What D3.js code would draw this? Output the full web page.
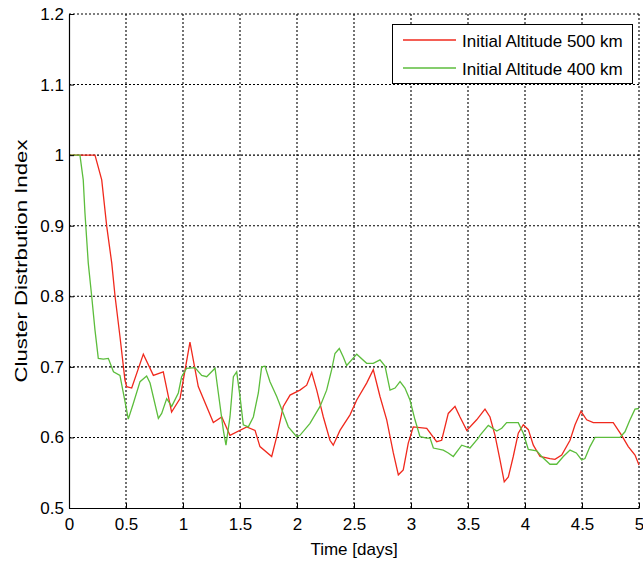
<!DOCTYPE html>
<html>
<head>
<meta charset="utf-8">
<script src="https://cdn.jsdelivr.net/npm/d3@7"></script>
<style>
  body { margin: 0; background: #fff; }
  text { font-family: "Liberation Sans", Arial, sans-serif; }
</style>
</head>
<body>
<div id="chart"></div>
<script>
// red series: initial altitude 500 km
var redT = [0, 0.228, 0.287, 0.331, 0.375, 0.404, 0.447, 0.491, 0.506, 0.55, 0.652, 0.74, 0.827, 0.9, 0.974,
    1.061, 1.134, 1.266, 1.34, 1.412, 1.559, 1.632, 1.675, 1.778, 1.822, 1.88, 1.939, 2.026, 2.085, 2.129,
    2.173, 2.231, 2.289, 2.318, 2.377, 2.465, 2.524, 2.611, 2.669, 2.728, 2.787, 2.845, 2.889, 2.932, 2.976,
    3.02, 3.138, 3.225, 3.269, 3.327, 3.386, 3.43, 3.489, 3.576, 3.649, 3.693, 3.737, 3.781, 3.818, 3.854,
    3.897, 3.941, 3.985, 4.029, 4.073, 4.132, 4.219, 4.263, 4.322, 4.395, 4.439, 4.491, 4.541, 4.599, 4.774,
    4.848, 4.906, 4.965, 5.0];
var redV = [1.0, 1.0, 0.965, 0.899, 0.847, 0.80, 0.743, 0.681, 0.672, 0.67, 0.718, 0.688, 0.693, 0.636, 0.655,
    0.735, 0.672, 0.621, 0.629, 0.603, 0.615, 0.61, 0.587, 0.573, 0.601, 0.644, 0.66, 0.667, 0.674, 0.692,
    0.667, 0.629, 0.596, 0.589, 0.61, 0.632, 0.653, 0.677, 0.696, 0.658, 0.625, 0.578, 0.547, 0.554, 0.592,
    0.615, 0.613, 0.594, 0.596, 0.634, 0.644, 0.629, 0.61, 0.625, 0.64, 0.629, 0.603, 0.568, 0.537, 0.544,
    0.573, 0.606, 0.618, 0.611, 0.589, 0.573, 0.570, 0.569, 0.575, 0.596, 0.618, 0.637, 0.625, 0.621, 0.621,
    0.603, 0.587, 0.575, 0.561];

// green series: initial altitude 400 km
var greenT = [0, 0.096, 0.125, 0.14, 0.169, 0.199, 0.228, 0.257, 0.301, 0.345, 0.39, 0.447, 0.491, 0.52, 0.564,
    0.623, 0.681, 0.711, 0.784, 0.813, 0.857, 0.901, 0.959, 0.988, 1.032, 1.105, 1.164, 1.208, 1.281, 1.31,
    1.354, 1.377, 1.412, 1.442, 1.471, 1.5, 1.529, 1.573, 1.617, 1.661, 1.69, 1.719, 1.763, 1.822, 1.88,
    1.924, 1.997, 2.026, 2.114, 2.202, 2.26, 2.304, 2.333, 2.371, 2.406, 2.436, 2.524, 2.611, 2.669, 2.728,
    2.772, 2.816, 2.86, 2.904, 2.947, 2.991, 3.035, 3.079, 3.138, 3.167, 3.196, 3.283, 3.327, 3.371, 3.445,
    3.518, 3.59, 3.605, 3.678, 3.752, 3.796, 3.839, 3.941, 3.985, 4.029, 4.103, 4.146, 4.219, 4.278, 4.336,
    4.395, 4.45, 4.497, 4.526, 4.57, 4.614, 4.833, 4.877, 4.921, 4.965, 5.0];
var greenV = [1.0, 1.0, 0.965, 0.918, 0.847, 0.80, 0.752, 0.712, 0.711, 0.712, 0.693, 0.688, 0.651, 0.626, 0.648,
    0.679, 0.687, 0.677, 0.627, 0.634, 0.655, 0.644, 0.663, 0.686, 0.698, 0.699, 0.688, 0.686, 0.698, 0.663,
    0.61, 0.589, 0.629, 0.686, 0.693, 0.658, 0.618, 0.615, 0.629, 0.663, 0.70, 0.701, 0.679, 0.658, 0.634,
    0.615, 0.601, 0.603, 0.62, 0.644, 0.667, 0.696, 0.719, 0.726, 0.714, 0.702, 0.718, 0.705, 0.705, 0.71,
    0.701, 0.667, 0.67, 0.679, 0.67, 0.653, 0.625, 0.601, 0.599, 0.599, 0.585, 0.582, 0.578, 0.573, 0.589,
    0.585, 0.599, 0.603, 0.617, 0.609, 0.613, 0.621, 0.621, 0.606, 0.583, 0.581, 0.573, 0.562, 0.562, 0.573,
    0.582, 0.578, 0.568, 0.57, 0.587, 0.6, 0.6, 0.608, 0.625, 0.64, 0.641];

var xTicks = [0, 0.5, 1, 1.5, 2, 2.5, 3, 3.5, 4, 4.5, 5];
var yTicks = [0.5, 0.6, 0.7, 0.8, 0.9, 1, 1.1, 1.2];
var legendNames = ["Initial Altitude 500 km", "Initial Altitude 400 km"];

var width = 643, height = 563;
var mLeft = 69, mRight = 639, mTop = 14, mBottom = 508;

var svg = d3.select("#chart").append("svg")
    .attr("width", width)
    .attr("height", height);

var x = d3.scaleLinear().domain([0, 5]).range([mLeft, mRight]);
var y = d3.scaleLinear().domain([0.5, 1.2]).range([mBottom, mTop]);

// dotted grid
svg.append("g").selectAll("line").data(xTicks.slice(1)).enter().append("line")
    .attr("x1", d => x(d)).attr("x2", d => x(d))
    .attr("y1", mTop).attr("y2", mBottom)
    .attr("stroke", "#000").attr("stroke-width", 1.1)
    .attr("stroke-dasharray", "2,2");
svg.append("g").selectAll("line").data(yTicks.slice(1)).enter().append("line")
    .attr("x1", mLeft).attr("x2", mRight)
    .attr("y1", d => y(d)).attr("y2", d => y(d))
    .attr("stroke", "#000").attr("stroke-width", 1.1)
    .attr("stroke-dasharray", "2,2");

var line = d3.line()
    .x(d => x(d[0]))
    .y(d => y(d[1]));

var redData = redT.map((t, i) => [t, redV[i]]);
var greenData = greenT.map((t, i) => [t, greenV[i]]);

svg.append("path").datum(redData)
    .attr("d", line)
    .attr("fill", "none")
    .attr("stroke", "#f0291d")
    .attr("stroke-width", 1.3);

svg.append("path").datum(greenData)
    .attr("d", line)
    .attr("fill", "none")
    .attr("stroke", "#5cbd3c")
    .attr("stroke-width", 1.3);

// axes
var xAxis = svg.append("g")
    .attr("transform", "translate(0," + mBottom + ")")
    .call(d3.axisBottom(x).tickValues(xTicks).tickSize(-5).tickSizeOuter(0)
        .tickPadding(10).tickFormat(d3.format("")));
var yAxis = svg.append("g")
    .attr("transform", "translate(" + mLeft + ",0)")
    .call(d3.axisLeft(y).tickValues(yTicks).tickSize(-5).tickSizeOuter(0)
        .tickPadding(5).tickFormat(d3.format("")));

[xAxis, yAxis].forEach(function (g) {
    g.select(".domain").attr("stroke", "#000").attr("stroke-width", 1.2);
    g.selectAll(".tick line").attr("stroke", "#000");
    g.selectAll("text")
        .attr("fill", "#000")
        .style("font-family", "'Liberation Sans', Arial, sans-serif")
        .style("font-size", "17px");
});

svg.append("text")
    .attr("x", (mLeft + mRight) / 2)
    .attr("y", 555)
    .attr("text-anchor", "middle")
    .attr("font-size", "17px")
    .text("Time [days]");

svg.append("text")
    .attr("transform", "translate(27," + ((mTop + mBottom) / 2) + ") rotate(-90)")
    .attr("text-anchor", "middle")
    .attr("font-size", "17px")
    .attr("textLength", 243)
    .attr("lengthAdjust", "spacingAndGlyphs")
    .text("Cluster Distrbution Index");

// legend
var legend = svg.append("g");
legend.append("rect")
    .attr("x", 392.5).attr("y", 24.5)
    .attr("width", 240).attr("height", 59)
    .attr("fill", "#fff")
    .attr("stroke", "#000")
    .attr("stroke-width", 1);

var legendColors = ["#f0291d", "#5cbd3c"];
legendNames.forEach(function (name, i) {
    var ly = 40 + i * 28;
    legend.append("line")
        .attr("x1", 403).attr("x2", 456)
        .attr("y1", ly).attr("y2", ly)
        .attr("stroke", legendColors[i])
        .attr("stroke-width", 1.3);
    legend.append("text")
        .attr("x", 462).attr("y", ly + 7)
        .attr("font-size", "17px")
        .text(name);
});
</script>
</body>
</html>
